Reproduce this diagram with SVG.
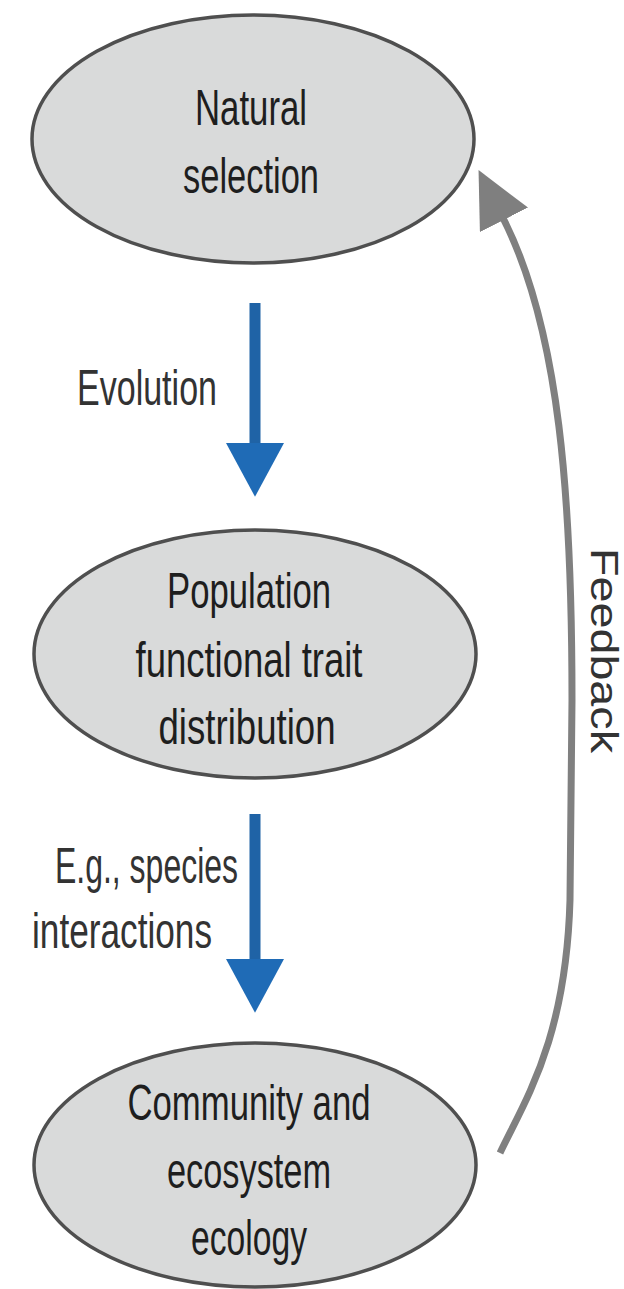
<svg xmlns="http://www.w3.org/2000/svg" width="624" height="1289" viewBox="0 0 624 1289">
  <style>
    .node ellipse { fill: #d9dada; stroke: #4f4f4f; stroke-width: 3.5; }
    .lbl { font-family: "Liberation Sans", Arial, sans-serif; font-size: 50px; fill: #1e1e1e; }
    .nlbl { text-anchor: middle; }
    .edge { fill: #333333; }
    .blue { stroke: #1f63a6; stroke-width: 11; fill: none; }
    .fb { stroke: #808080; stroke-width: 7; fill: none; }
  </style>
  <defs>
    <marker id="blueHead" markerUnits="userSpaceOnUse" markerWidth="54" markerHeight="58" viewBox="0 0 52 56" refX="0" refY="28" orient="auto">
      <path d="M0,0 L52,28 L0,56 z" fill="#1f6bb6"/>
    </marker>
    <marker id="grayHead" markerUnits="userSpaceOnUse" markerWidth="56" markerHeight="54" viewBox="0 0 54 52" refX="2" refY="26" orient="auto">
      <path d="M0,0 L54,26 L0,52 z" fill="#7f7f7f"/>
    </marker>
  </defs>

  <g id="connectors">
    <g id="edge-evolution">
      <line class="blue" x1="255" y1="303" x2="255" y2="443" marker-end="url(#blueHead)"/>
      <text class="lbl edge" x="77" y="405" textLength="140" lengthAdjust="spacingAndGlyphs">Evolution</text>
    </g>
    <g id="edge-interactions">
      <line class="blue" x1="255" y1="814" x2="255" y2="959" marker-end="url(#blueHead)"/>
      <text class="lbl edge" x="55" y="883" textLength="183" lengthAdjust="spacingAndGlyphs">E.g., species</text>
      <text class="lbl edge" x="32" y="948" textLength="180" lengthAdjust="spacingAndGlyphs">interactions</text>
    </g>
    <g id="edge-feedback">
      <path class="fb" d="M500,1153 C525,1100 566,1040 570,900 L572,700 C572,500 560,330 503,218" marker-end="url(#grayHead)"/>
      <text class="lbl edge" transform="translate(591,548) rotate(90)" x="0" y="0" style="font-size:38px" textLength="205" lengthAdjust="spacingAndGlyphs">Feedback</text>
    </g>
  </g>

  <g id="node-natural-selection" class="node">
    <ellipse cx="253" cy="139" rx="221" ry="124"/>
    <text class="lbl nlbl" x="251" y="125" textLength="112" lengthAdjust="spacingAndGlyphs">Natural</text>
    <text class="lbl nlbl" x="251" y="193" textLength="136" lengthAdjust="spacingAndGlyphs">selection</text>
  </g>

  <g id="node-population" class="node">
    <ellipse cx="255" cy="654" rx="221" ry="124"/>
    <text class="lbl nlbl" x="249" y="608" textLength="164" lengthAdjust="spacingAndGlyphs">Population</text>
    <text class="lbl nlbl" x="249" y="677" textLength="227" lengthAdjust="spacingAndGlyphs">functional trait</text>
    <text class="lbl nlbl" x="247" y="744" textLength="177" lengthAdjust="spacingAndGlyphs">distribution</text>
  </g>

  <g id="node-community" class="node">
    <ellipse cx="255" cy="1165" rx="221" ry="122"/>
    <text class="lbl nlbl" x="249" y="1120" textLength="243" lengthAdjust="spacingAndGlyphs">Community and</text>
    <text class="lbl nlbl" x="249" y="1188" textLength="164" lengthAdjust="spacingAndGlyphs">ecosystem</text>
    <text class="lbl nlbl" x="249" y="1255" textLength="116" lengthAdjust="spacingAndGlyphs">ecology</text>
  </g>
</svg>
